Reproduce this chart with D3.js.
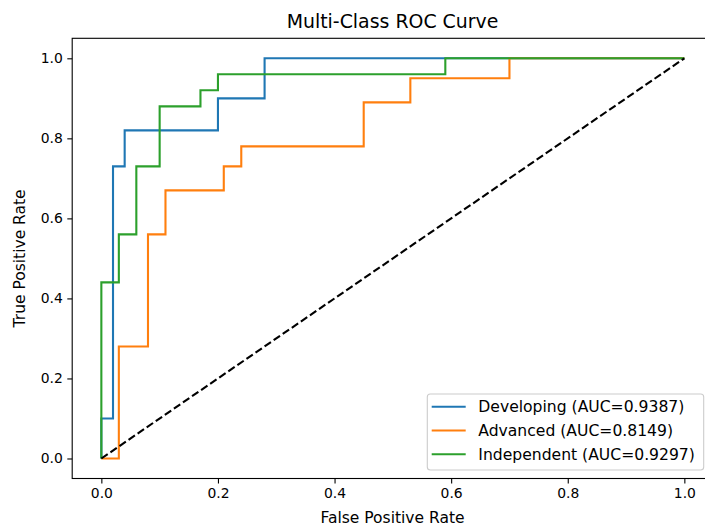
<!DOCTYPE html>
<html>
<head>
<meta charset="utf-8">
<script src="https://cdn.jsdelivr.net/npm/d3@7"></script>
<style>
  body { margin: 0; background: #fff; }
  text { font-family: "DejaVu Sans", sans-serif; fill: #000; }
</style>
</head>
<body>
<script>
// class names and AUC values
var classes = ["Developing", "Advanced", "Independent"];
var aucs = [0.9387, 0.8149, 0.9297];
var colors = ["#1f77b4", "#ff7f0e", "#2ca02c"];

// ROC points
var fprDeveloping = [0, 0, 0.02, 0.02, 0.04, 0.04, 0.2, 0.2, 0.28, 0.28, 1];
var tprDeveloping = [0, 0.1, 0.1, 0.73, 0.73, 0.82, 0.82, 0.9, 0.9, 1, 1];

var fprAdvanced = [0, 0.03, 0.03, 0.08, 0.08, 0.11, 0.11, 0.21, 0.21, 0.24, 0.24, 0.45, 0.45, 0.53, 0.53, 0.7, 0.7, 1];
var tprAdvanced = [0, 0, 0.28, 0.28, 0.56, 0.56, 0.67, 0.67, 0.73, 0.73, 0.78, 0.78, 0.89, 0.89, 0.95, 0.95, 1, 1];

var fprIndependent = [0, 0, 0.03, 0.03, 0.06, 0.06, 0.1, 0.1, 0.17, 0.17, 0.2, 0.2, 0.59, 0.59, 1];
var tprIndependent = [0, 0.44, 0.44, 0.56, 0.56, 0.73, 0.73, 0.88, 0.88, 0.92, 0.92, 0.96, 0.96, 1, 1];

var ticks = [0, 0.2, 0.4, 0.6, 0.8, 1.0];

var curves = [
  { fpr: fprDeveloping, tpr: tprDeveloping },
  { fpr: fprAdvanced, tpr: tprAdvanced },
  { fpr: fprIndependent, tpr: tprIndependent }
];

var width = 705,
    height = 526;

var axLeft = 72.2, axRight = 713.5, axTop = 38.3, axBottom = 478.5;

var x = d3.scaleLinear().domain([-0.05, 1.05]).range([axLeft, axRight]);
var y = d3.scaleLinear().domain([-0.05, 1.05]).range([axBottom, axTop]);

var svg = d3.select("body").append("svg")
    .attr("width", width)
    .attr("height", height);

var line = d3.line()
    .x(function(d) { return x(d[0]); })
    .y(function(d) { return y(d[1]); });

curves.forEach(function(c, i) {
  var pts = c.fpr.map(function(f, j) { return [f, c.tpr[j]]; });
  svg.append("path")
      .attr("d", line(pts))
      .attr("fill", "none")
      .attr("stroke", colors[i])
      .attr("stroke-width", 2.1);
});

// chance line, drawn last
svg.append("path")
    .attr("d", line([[0, 0], [1, 1]]))
    .attr("fill", "none")
    .attr("stroke", "#000")
    .attr("stroke-width", 2.1)
    .attr("stroke-dasharray", "7.7,3.3");

// axes
var xAxis = d3.axisBottom(x).tickValues(ticks).tickFormat(d3.format(".1f"))
    .tickSize(4.9).tickPadding(4.5);
var yAxis = d3.axisLeft(y).tickValues(ticks).tickFormat(d3.format(".1f"))
    .tickSize(4.9).tickPadding(4.5);

var gx = svg.append("g").attr("transform", "translate(0," + axBottom + ")").call(xAxis);
var gy = svg.append("g").attr("transform", "translate(" + axLeft + ",0)").call(yAxis);
[gx, gy].forEach(function(g) {
  g.select(".domain").remove();
  g.selectAll(".tick line").attr("stroke", "#000").attr("stroke-width", 1.1);
  g.selectAll(".tick text").attr("font-size", 13.9).attr("fill", "#000")
    .style("font-family", "DejaVu Sans, sans-serif");
});

svg.append("rect")
    .attr("x", axLeft).attr("y", axTop)
    .attr("width", axRight - axLeft).attr("height", axBottom - axTop)
    .attr("fill", "none").attr("stroke", "#000").attr("stroke-width", 1.1);

// labels
svg.append("text")
    .attr("x", 392.5).attr("y", 28.3)
    .attr("text-anchor", "middle").attr("font-size", 18.9)
    .text("Multi-Class ROC Curve");

svg.append("text")
    .attr("x", 392.5).attr("y", 523)
    .attr("text-anchor", "middle").attr("font-size", 15.5)
    .text("False Positive Rate");

svg.append("text")
    .attr("transform", "translate(25," + (axTop + axBottom) / 2 + ") rotate(-90)")
    .attr("text-anchor", "middle").attr("font-size", 15.5)
    .text("True Positive Rate");

// legend
var lg = svg.append("g");
lg.append("rect")
    .attr("x", 427.3).attr("y", 394)
    .attr("width", 276.4).attr("height", 76)
    .attr("rx", 3).attr("ry", 3)
    .attr("fill", "#fff").attr("fill-opacity", 0.8)
    .attr("stroke", "#cccccc").attr("stroke-width", 1.1);

classes.forEach(function(name, i) {
  var ry = 406.7 + i * 23.8;
  lg.append("line")
      .attr("x1", 431.7).attr("x2", 465.7)
      .attr("y1", ry).attr("y2", ry)
      .attr("stroke", colors[i]).attr("stroke-width", 2.1);
  lg.append("text")
      .attr("x", 478.3).attr("y", ry)
      .attr("dy", "0.36em").attr("font-size", 15.6)
      .text(name + " (AUC=" + aucs[i].toFixed(4) + ")");
});
</script>
</body>
</html>
